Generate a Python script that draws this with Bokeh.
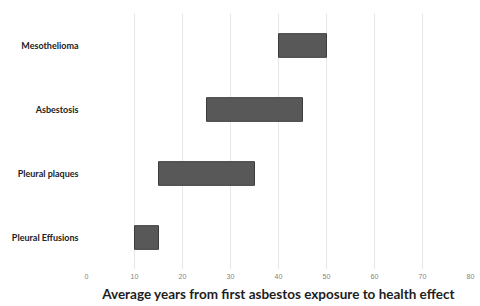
from bokeh.plotting import figure
from bokeh.models import ColumnDataSource, FactorRange, Range1d, FixedTicker
from bokeh.embed import file_html
from bokeh.resources import INLINE

categories = ["Mesothelioma", "Asbestosis", "Pleural plaques", "Pleural Effusions"]
start_years = [40, 25, 15, 10]
end_years = [50, 45, 35, 15]
x_ticks = [0, 10, 20, 30, 40, 50, 60, 70, 80]
x_title = "Average years from first asbestos exposure to health effect"

src = ColumnDataSource(dict(cat=categories, left=start_years, right=end_years))

p = figure(width=478, height=304, output_backend="svg", toolbar_location=None,
           y_range=FactorRange(*categories[::-1], range_padding=0),
           x_range=Range1d(0, 80))
p.min_border_left = 86
p.min_border_right = 8
p.min_border_top = 13
p.min_border_bottom = 33
p.outline_line_color = None

p.hbar(y="cat", left="left", right="right", height=0.37, source=src,
       fill_color="#585858", line_color="#3c3c3c", line_width=1)

p.xaxis.ticker = FixedTicker(ticks=x_ticks)
p.xaxis.axis_line_color = None
p.xaxis.major_tick_line_color = None
p.xaxis.minor_tick_line_color = None
p.xaxis.major_tick_out = 0
p.xaxis.major_tick_in = 0
p.xaxis.major_label_text_font_size = "7px"
p.xaxis.major_label_text_color = "#808080"
p.xaxis.major_label_standoff = 4
p.xaxis.axis_label = x_title
p.xaxis.axis_label_text_font = "Lato"
p.xaxis.axis_label_text_font_style = "bold"
p.xaxis.axis_label_text_font_size = "13.5px"
p.xaxis.axis_label_text_color = "#1e1e1e"
p.xaxis.axis_label_standoff = 4

p.yaxis.axis_line_color = None
p.yaxis.major_tick_line_color = None
p.yaxis.minor_tick_line_color = None
p.yaxis.major_tick_out = 0
p.yaxis.major_tick_in = 0
p.yaxis.major_label_text_font = "Lato"
p.yaxis.major_label_text_font_style = "bold"
p.yaxis.major_label_text_font_size = "9px"
p.yaxis.major_label_text_color = "#222222"
p.yaxis.major_label_standoff = 8

p.xgrid.grid_line_color = "#e6e6e6"
p.ygrid.grid_line_color = None

open("out.html", "w").write(file_html(p, INLINE))
